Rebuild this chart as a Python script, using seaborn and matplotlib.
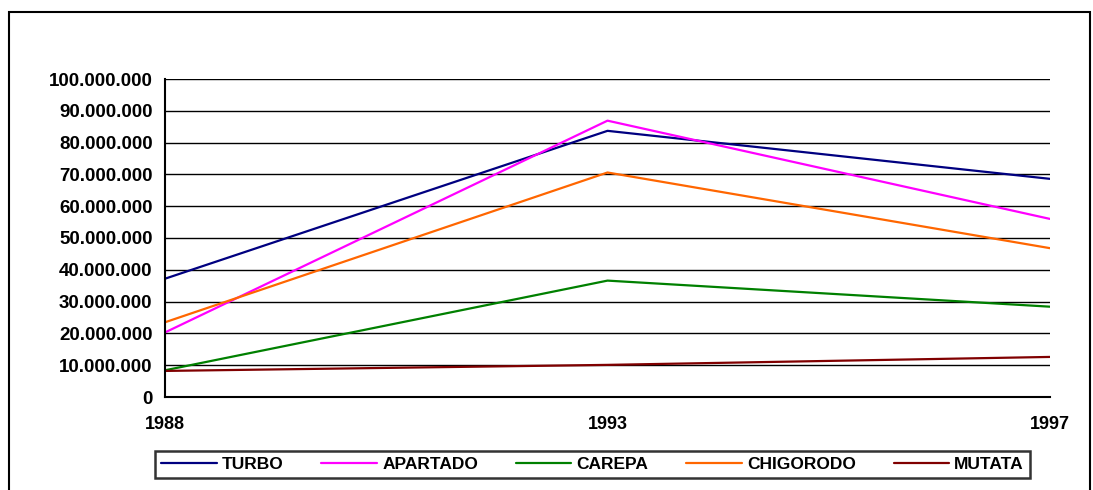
import matplotlib
matplotlib.use("Agg")
import matplotlib.pyplot as plt
import matplotlib.patches as mpatches
from matplotlib.ticker import FuncFormatter, MultipleLocator
import seaborn as sns
import pandas as pd

years = ["1988", "1993", "1997"]
turbo = [37200000, 83700000, 68600000]
apartado = [20300000, 86900000, 56000000]
carepa = [8400000, 36600000, 28400000]
chigorodo = [23500000, 70600000, 46800000]
mutata = [8200000, 10100000, 12600000]
series_names = ["TURBO", "APARTADO", "CAREPA", "CHIGORODO", "MUTATA"]
colors = ["#000080", "#FF00FF", "#008000", "#FF6600", "#800000"]

rows = []
for name, vals in zip(series_names, [turbo, apartado, carepa, chigorodo, mutata]):
    for y, v in zip(years, vals):
        rows.append({"year": y, "value": v, "series": name})
df = pd.DataFrame(rows)

sns.set_style("white")
plt.rcParams["font.family"] = ["Liberation Sans", "DejaVu Sans"]
plt.rcParams["font.weight"] = "bold"
plt.rcParams["text.color"] = "black"
plt.rcParams["xtick.color"] = "black"
plt.rcParams["ytick.color"] = "black"
plt.rcParams["xtick.labelcolor"] = "black"
plt.rcParams["ytick.labelcolor"] = "black"

fig = plt.figure(figsize=(10.93, 4.9), dpi=100)
ax = fig.add_axes([165/1093, 1-397/490, (1050-165)/1093, (397-79)/490])

sns.lineplot(data=df, x="year", y="value", hue="series", hue_order=series_names,
             palette=colors, linewidth=1.6, sort=False, ax=ax, legend=False)

ax.set_xlim(0, 2)
ax.set_ylim(0, 100000000)
ax.yaxis.set_major_locator(MultipleLocator(10000000))
ax.yaxis.set_major_formatter(FuncFormatter(lambda v, p: f"{int(round(v)):,}".replace(",", ".")))
ax.grid(axis="y", color="black", linewidth=1.0)
ax.set_axisbelow(True)
for s in ["top", "right"]:
    ax.spines[s].set_visible(False)
for s in ["left", "bottom"]:
    ax.spines[s].set_color("black")
    ax.spines[s].set_linewidth(1.5)
ax.tick_params(axis="y", direction="out", length=5, width=1.2, labelsize=13.5, pad=4)
ax.tick_params(axis="x", direction="out", length=5, width=1.2, labelsize=13, pad=9)
for lab in ax.get_xticklabels() + ax.get_yticklabels():
    lab.set_fontweight("bold")
ax.set_xlabel("")
ax.set_ylabel("")

handles = [plt.Line2D([0], [0], color=c, linewidth=1.6) for c in colors]
leg = fig.legend(handles, series_names, loc="lower left",
                 bbox_to_anchor=(155/1093, 1-478/490, (1030-155)/1093, 30/490),
                 mode="expand", ncol=5, frameon=True, fancybox=False,
                 prop={"weight": "bold", "size": 12.5}, handlelength=3.2,
                 handletextpad=0.3, borderaxespad=0, borderpad=0.35)
leg.get_frame().set_edgecolor("black")
leg.get_frame().set_linewidth(1.8)
for t in leg.get_texts():
    t.set_color("black")

border = mpatches.Rectangle((9/1093, -0.1), (1090-9)/1093, 1-12/490+0.1,
                            transform=fig.transFigure, fill=False,
                            edgecolor="black", linewidth=1.5, clip_on=False)
fig.patches.append(border)

fig.savefig("out.png", dpi=100)
